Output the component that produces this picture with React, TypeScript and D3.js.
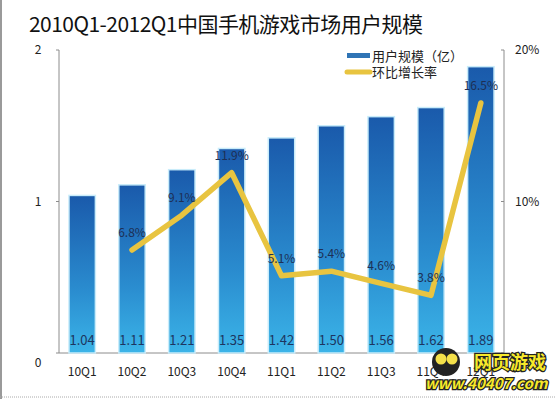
import React, { useEffect, useRef } from 'react'
import * as d3 from 'd3'

const quarters = ['10Q1', '10Q2', '10Q3', '10Q4', '11Q1', '11Q2', '11Q3', '11Q4', '12Q1']
const users = [1.04, 1.11, 1.21, 1.35, 1.42, 1.5, 1.56, 1.62, 1.89]
// growth rate starts at 10Q2
const growth: (number | null)[] = [null, 6.8, 9.1, 11.9, 5.1, 5.4, 4.6, 3.8, 16.5]
const leftTicks = [0, 1, 2]
const rightTicks = [0, 10, 20]

const FONT = '"Noto Sans CJK SC", "Noto Sans", sans-serif'

export default function App() {
  const svgRef = useRef<SVGSVGElement>(null)

  useEffect(() => {
    if (!svgRef.current) return
    const svg = d3.select(svgRef.current)
    svg.selectAll('*').remove()

    const W = 555
    const H = 399
    const left = 59
    const right = 504
    const top = 50
    const bottom = 353

    svg.attr('width', W).attr('height', H)
    svg.append('rect').attr('width', W).attr('height', H).attr('fill', '#fff')

    // frame bits
    svg.append('line').attr('x1', 1).attr('x2', 1).attr('y1', 0).attr('y2', H)
      .attr('stroke', '#9a9a9a').attr('stroke-width', 2)
    svg.append('line').attr('x1', 0).attr('x2', W).attr('y1', 397).attr('y2', 397)
      .attr('stroke', '#aaa').attr('stroke-width', 1).attr('stroke-dasharray', '1,1')

    const defs = svg.append('defs')
    const grad = defs.append('linearGradient').attr('id', 'barGrad')
      .attr('x1', 0).attr('y1', 0).attr('x2', 0).attr('y2', 1)
    grad.append('stop').attr('offset', '0%').attr('stop-color', '#1a5aab')
    grad.append('stop').attr('offset', '60%').attr('stop-color', '#2a8ccf')
    grad.append('stop').attr('offset', '100%').attr('stop-color', '#3bb4e8')

    // title
    svg.append('text')
      .attr('x', 29).attr('y', 32)
      .attr('fill', '#111')
      .attr('textLength', 394)
      .attr('lengthAdjust', 'spacing')
      .style('font-family', FONT)
      .style('font-size', '21px')
      .text('2010Q1-2012Q1中国手机游戏市场用户规模')

    const x = d3.scaleBand<string>().domain(quarters).range([left, right]).paddingInner(0.47).paddingOuter(0.2)
    const y = d3.scaleLinear().domain([0, 2]).range([bottom, top])
    const y2 = d3.scaleLinear().domain([0, 20]).range([bottom, top])

    // axes lines
    const axisColor = '#8c8c8c'
    svg.append('line').attr('x1', left).attr('x2', left).attr('y1', top).attr('y2', bottom).attr('stroke', axisColor)
    svg.append('line').attr('x1', right).attr('x2', right).attr('y1', top).attr('y2', bottom).attr('stroke', axisColor)
    svg.append('line').attr('x1', left).attr('x2', right).attr('y1', bottom).attr('y2', bottom).attr('stroke', axisColor)

    leftTicks.forEach(t => {
      svg.append('line').attr('x1', left - 3).attr('x2', left).attr('y1', y(t)).attr('y2', y(t)).attr('stroke', axisColor)
      svg.append('text')
        .attr('x', 38).attr('y', t === 0 ? y(t) + 10 : y(t))
        .attr('dy', '0.35em').attr('text-anchor', 'middle')
        .attr('fill', '#222').style('font-family', FONT).style('font-size', '12px')
        .text(String(t))
    })
    rightTicks.forEach(t => {
      svg.append('line').attr('x1', right - 3).attr('x2', right).attr('y1', y2(t)).attr('y2', y2(t)).attr('stroke', axisColor)
      svg.append('text')
        .attr('x', 515).attr('y', t === 0 ? y2(t) + 10 : y2(t))
        .attr('dy', '0.35em')
        .attr('fill', '#222').style('font-family', FONT).style('font-size', '12px')
        .text(`${t}%`)
    })

    // bars
    svg.selectAll('.bar')
      .data(users)
      .enter().append('rect')
      .attr('class', 'bar')
      .attr('x', (_, i) => x(quarters[i]) || 0)
      .attr('y', d => y(d))
      .attr('width', x.bandwidth())
      .attr('height', d => bottom - y(d))
      .attr('fill', 'url(#barGrad)')
      .attr('stroke', '#c9ecfa')
      .attr('stroke-width', 1.5)

    svg.selectAll('.barLabel')
      .data(users)
      .enter().append('text')
      .attr('x', (_, i) => (x(quarters[i]) || 0) + x.bandwidth() / 2)
      .attr('y', 345)
      .attr('text-anchor', 'middle')
      .attr('fill', '#1d3560')
      .style('font-family', FONT)
      .style('font-size', '13px')
      .text(d => d.toFixed(2))

    // x labels
    svg.selectAll('.xLabel')
      .data(quarters)
      .enter().append('text')
      .attr('x', d => (x(d) || 0) + x.bandwidth() / 2)
      .attr('y', 376)
      .attr('text-anchor', 'middle')
      .attr('fill', '#222')
      .style('font-family', FONT)
      .style('font-size', '12px')
      .text(d => d)

    // growth line
    const pts = growth
      .map((g, i) => ({ q: quarters[i], g }))
      .filter(p => p.g !== null) as { q: string, g: number }[]
    const line = d3.line<{ q: string, g: number }>()
      .x(d => (x(d.q) || 0) + x.bandwidth() / 2)
      .y(d => y2(d.g))

    svg.append('path')
      .datum(pts)
      .attr('fill', 'none')
      .attr('stroke', '#e8c440')
      .attr('stroke-width', 5.5)
      .attr('stroke-linejoin', 'round')
      .attr('stroke-linecap', 'round')
      .attr('d', line)

    svg.selectAll('.gLabel')
      .data(pts)
      .enter().append('text')
      .attr('x', d => (x(d.q) || 0) + x.bandwidth() / 2)
      .attr('y', d => y2(d.g) - 13)
      .attr('text-anchor', 'middle')
      .attr('fill', '#1d2f55')
      .style('font-family', FONT)
      .style('font-size', '12px')
      .text(d => `${d.g.toFixed(1)}%`)

    // legend
    const lg = svg.append('g').attr('transform', 'translate(347,56)')
    lg.append('rect').attr('x', 0).attr('y', -3).attr('width', 23).attr('height', 5).attr('fill', '#2f74b5')
    lg.append('text').attr('x', 25).attr('y', 0).attr('dy', '0.35em')
      .attr('fill', '#222').style('font-family', FONT).style('font-size', '13px')
      .text('用户规模（亿）')
    lg.append('line').attr('x1', 0).attr('x2', 23).attr('y1', 16).attr('y2', 16)
      .attr('stroke', '#e8c440').attr('stroke-width', 5).attr('stroke-linecap', 'round')
    lg.append('text').attr('x', 25).attr('y', 16).attr('dy', '0.35em')
      .attr('fill', '#222').style('font-family', FONT).style('font-size', '13px')
      .text('环比增长率')

    // watermark
    const wm = svg.append('g')
    wm.append('circle').attr('cx', 446).attr('cy', 362).attr('r', 14).attr('fill', '#222')
    wm.append('circle').attr('cx', 441).attr('cy', 359).attr('r', 5.5).attr('fill', '#f4e04a')
    wm.append('circle').attr('cx', 452).attr('cy', 359).attr('r', 5.5).attr('fill', '#f4e04a')
    wm.append('text').attr('x', 510).attr('y', 369).attr('text-anchor', 'middle')
      .attr('fill', '#f7e92a').attr('stroke', '#222').attr('stroke-width', 2.5).attr('paint-order', 'stroke')
      .style('font-family', FONT).style('font-size', '18px').style('font-weight', 'bold')
      .text('网页游戏')
    wm.append('text').attr('x', 486).attr('y', 389).attr('text-anchor', 'middle')
      .attr('fill', '#f7e92a').attr('stroke', '#222').attr('stroke-width', 2.5).attr('paint-order', 'stroke')
      .style('font-family', FONT).style('font-size', '15px').style('font-weight', 'bold').style('font-style', 'italic')
      .text('www.40407.com')
  }, [])

  return (
    <div style={{ position: 'fixed', left: 0, top: 0 }}>
      <svg ref={svgRef} style={{ display: 'block' }}></svg>
    </div>
  )
}
